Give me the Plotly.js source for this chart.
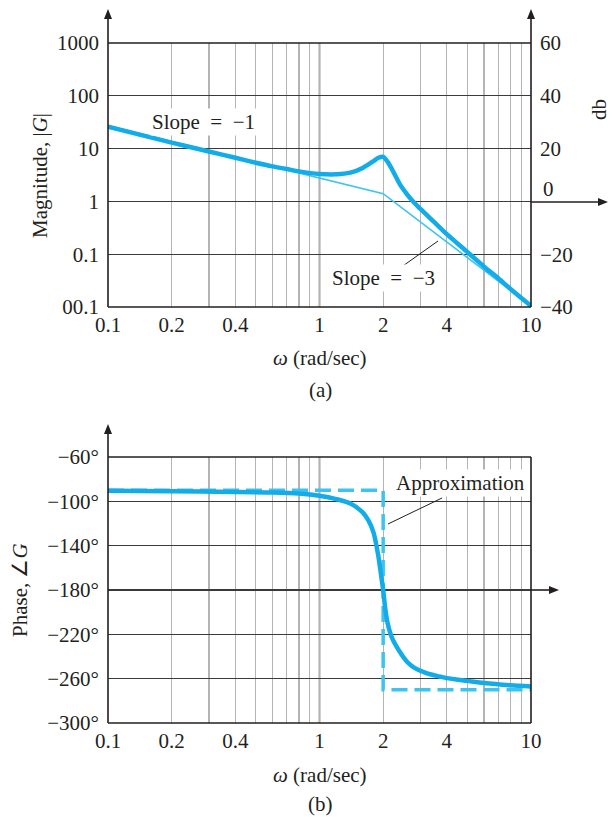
<!DOCTYPE html>
<html>
<head>
<meta charset="utf-8">
<script src="https://cdn.plot.ly/plotly-3.0.1.min.js"></script>
<style>html,body{margin:0;padding:0;background:#fff;}#chart{width:615px;height:817px;}</style>
</head>
<body>
<div id="chart"></div>
<script>
// ---- Data ----
// (a) magnitude
var magOmega = [0.1, 0.2, 0.3, 0.4, 0.5, 0.6, 0.7, 0.8, 1.0, 1.2, 1.4, 1.6, 1.8, 1.9, 2.0, 2.1, 2.2, 2.4, 2.6, 2.8, 3.0, 3.5, 4.0, 5.0, 6.0, 7.0, 8.0, 10.0];
var magValues = [26, 13, 8.8, 6.7, 5.4, 4.6, 4.1, 3.7, 3.3, 3.25, 3.5, 4.3, 5.8, 6.7, 7.0, 5.6, 4.1, 2.1, 1.35, 0.95, 0.72, 0.40, 0.24, 0.11, 0.058, 0.035, 0.022, 0.0105];
var asymOmega = [0.1, 2, 10];
var asymValues = [27, 1.4, 0.0105];
// (b) phase
var phaseOmega = [0.1, 0.2, 0.4, 0.6, 0.8, 1.0, 1.2, 1.4, 1.6, 1.7, 1.8, 1.9, 1.95, 2.0, 2.05, 2.1, 2.2, 2.4, 2.6, 2.8, 3.2, 3.7, 4.0, 5.0, 6.0, 8.0, 10.0];
var phaseValues = [-90.5, -91, -91.5, -92, -93, -95, -98, -102, -110, -117, -128, -150, -165, -180, -198, -210, -223, -236, -245, -250, -255, -258, -259.5, -262, -264, -266, -267];
var approxOmega = [0.1, 2, 2, 10];
var approxValues = [-90, -90, -270, -270];
// ticks
var xGridVals = [0.1,0.2,0.3,0.4,0.5,0.6,0.7,0.8,0.9,1,2,3,4,5,6,7,8,9,10];
var xGridText = ['0.1','0.2','','0.4','','','','','','1','2','','4','','','','','','10'];
var magTickVals = [0.01, 0.1, 1, 10, 100, 1000];
var magTickText = ['00.1', '0.1', '1', '10', '100', '1000'];
var dbTickVals = [60, 40, 20, -20, -40];
var dbTickText = ['60', '40', '20', '\u221220', '\u221240'];
var phaseTickVals = [-60, -100, -140, -180, -220, -260, -300];
var phaseTickText = ['\u221260\u00b0', '\u2212100\u00b0', '\u2212140\u00b0', '\u2212180\u00b0', '\u2212220\u00b0', '\u2212260\u00b0', '\u2212300\u00b0'];

// ---- Layout helpers (pixel -> paper) ----
var W = 615, H = 817;
function X(p){ return p / W; }
function Y(p){ return 1 - p / H; }
var FONT = 'Liberation Serif, Times New Roman, serif';
var FS = 21;
var TXT = '#231f20';
var BLUE = '#12ade9';
var BLUE_LIGHT = '#3cc4f0';
var L = 108, R = 531, T1 = 43, B1 = 307, T2 = 457, B2 = 723;
var ZERO_DB = 202, PHASE_180 = 590;

function line(x0, y0, x1, y1, color, width, layer){
  return {type:'line', xref:'paper', yref:'paper', x0:X(x0), y0:Y(y0), x1:X(x1), y1:Y(y1),
          line:{color:color, width:width}, layer:layer || 'above'};
}
function arrowUp(x, tip){
  return {type:'path', xref:'paper', yref:'paper', fillcolor:'#231f20', line:{width:0},
    path:'M'+X(x)+','+Y(tip)+' L'+X(x-4)+','+Y(tip+10)+' L'+X(x+4)+','+Y(tip+10)+' Z', layer:'above'};
}
function arrowRight(tip, y){
  return {type:'path', xref:'paper', yref:'paper', fillcolor:'#231f20', line:{width:0},
    path:'M'+X(tip)+','+Y(y)+' L'+X(tip-10)+','+Y(y-4)+' L'+X(tip-10)+','+Y(y+4)+' Z', layer:'above'};
}

var axisCommonX = {
  type:'log', range:[-1, 1], tickvals:xGridVals, ticktext:xGridText,
  showgrid:true, gridcolor:'#b4b4b4', gridwidth:1.3, zeroline:false, showline:false,
  ticks:'', tickfont:{family:FONT, size:FS, color:TXT}, ticklabelstandoff:3, fixedrange:true
};

var traces = [
  {x:asymOmega, y:asymValues, xaxis:'x', yaxis:'y', mode:'lines', line:{color:BLUE_LIGHT, width:1.6}, hoverinfo:'skip', showlegend:false},
  {x:magOmega, y:magValues, xaxis:'x', yaxis:'y', mode:'lines', line:{color:BLUE, width:4.5, shape:'spline', smoothing:0.8}, showlegend:false},
  {x:[1], y:[null], xaxis:'x', yaxis:'y3', mode:'lines', showlegend:false, hoverinfo:'skip'},
  {x:approxOmega, y:approxValues, xaxis:'x2', yaxis:'y2', mode:'lines', line:{color:BLUE_LIGHT, width:3.5, dash:'16px,7px'}, hoverinfo:'skip', showlegend:false},
  {x:phaseOmega, y:phaseValues, xaxis:'x2', yaxis:'y2', mode:'lines', line:{color:BLUE, width:4.5, shape:'spline', smoothing:0.8}, showlegend:false}
];

var layout = {
  width:W, height:H, autosize:false,
  margin:{l:0, r:0, t:0, b:0},
  paper_bgcolor:'#fff', plot_bgcolor:'#fff',
  font:{family:FONT, size:FS, color:TXT},
  showlegend:false,
  xaxis: Object.assign({}, axisCommonX, {domain:[X(L), X(R)], anchor:'y'}),
  yaxis: {type:'log', range:[-2, 3], domain:[Y(B1), Y(T1)], anchor:'x',
    tickvals:magTickVals, ticktext:magTickText, showgrid:true, gridcolor:'#3a3a3a', gridwidth:1.2,
    zeroline:false, showline:false, ticks:'', tickfont:{family:FONT, size:FS, color:TXT}, ticklabelstandoff:8, fixedrange:true},
  yaxis3: {overlaying:'y', side:'right', anchor:'x', range:[-40, 60],
    tickvals:dbTickVals, ticktext:dbTickText, showgrid:false, zeroline:false, showline:false, ticks:'',
    tickfont:{family:FONT, size:FS, color:TXT}, ticklabelstandoff:8, fixedrange:true},
  xaxis2: Object.assign({}, axisCommonX, {domain:[X(L), X(R)], anchor:'y2'}),
  yaxis2: {range:[-300, -60], domain:[Y(B2), Y(T2)], anchor:'x2',
    tickvals:phaseTickVals, ticktext:phaseTickText, showgrid:true, gridcolor:'#3a3a3a', gridwidth:1.2,
    zeroline:false, showline:false, ticks:'', tickfont:{family:FONT, size:FS, color:TXT}, ticklabelstandoff:8, fixedrange:true},
  shapes: [
    // darker decade line at omega = 1
    line((L+R)/2, T1, (L+R)/2, B1, '#4a4a4a', 1.5, 'between'),
    line((L+R)/2, T2, (L+R)/2, B2, '#4a4a4a', 1.5, 'between'),
    // (a) frame & axes
    line(L, B1, L, 16, '#231f20', 1.6),
    line(R, B1, R, 16, '#231f20', 1.6),
    line(L, B1, R, B1, '#231f20', 1.6),
    line(L, T1, R, T1, '#231f20', 1.3),
    line(R, ZERO_DB, 600, ZERO_DB, '#231f20', 1.6),
    arrowUp(L, 9), arrowUp(R, 9), arrowRight(608, ZERO_DB),
    // (b) frame & axes
    line(L, B2, L, 432, '#231f20', 1.6),
    line(R, B2, R, T2, '#231f20', 1.6),
    line(L, B2, R, B2, '#231f20', 1.6),
    line(L, T2, R, T2, '#231f20', 1.3),
    line(R, PHASE_180, 550, PHASE_180, '#231f20', 1.6),
    arrowUp(L, 424), arrowRight(559, PHASE_180),
    // leader lines
    line(400, 268, 438, 241, '#231f20', 1),
    line(442, 498, 388, 524, '#231f20', 1)
  ],
  annotations: [
    {xref:'paper', yref:'paper', x:X(203), y:Y(122), text:'Slope\u2002=\u2002\u22121', showarrow:false, xanchor:'center', yanchor:'middle', bgcolor:'#fff', font:{size:FS}},
    {xref:'paper', yref:'paper', x:X(383), y:Y(278), text:'Slope\u2002=\u2002\u22123', showarrow:false, xanchor:'center', yanchor:'middle', bgcolor:'#fff', font:{size:FS}},
    {xref:'paper', yref:'paper', x:X(541), y:Y(189), text:'0', showarrow:false, xanchor:'left', yanchor:'middle', font:{size:FS}},
    {xref:'paper', yref:'paper', x:X(599), y:Y(110), text:'db', showarrow:false, textangle:-90, xanchor:'center', yanchor:'middle', borderpad:0, font:{size:FS}},
    {xref:'paper', yref:'paper', x:X(40), y:Y(176), text:'Magnitude, |<i>G</i>|', showarrow:false, textangle:-90, xanchor:'center', yanchor:'middle', font:{size:FS}},
    {xref:'paper', yref:'paper', x:X(320), y:Y(358), text:'<i>\u03c9</i> (rad/sec)', showarrow:false, xanchor:'center', yanchor:'middle', font:{size:FS}},
    {xref:'paper', yref:'paper', x:X(320), y:Y(390), text:'(a)', showarrow:false, xanchor:'center', yanchor:'middle', font:{size:FS}},
    {xref:'paper', yref:'paper', x:X(460), y:Y(483), text:'Approximation', showarrow:false, xanchor:'center', yanchor:'middle', bgcolor:'#fff', font:{size:FS}},
    {xref:'paper', yref:'paper', x:X(20), y:Y(590), text:'Phase, \u2220<i>G</i>', showarrow:false, textangle:-90, xanchor:'center', yanchor:'middle', font:{size:FS}},
    {xref:'paper', yref:'paper', x:X(320), y:Y(775), text:'<i>\u03c9</i> (rad/sec)', showarrow:false, xanchor:'center', yanchor:'middle', font:{size:FS}},
    {xref:'paper', yref:'paper', x:X(320), y:Y(804), text:'(b)', showarrow:false, xanchor:'center', yanchor:'middle', font:{size:FS}}
  ]
};

Plotly.newPlot('chart', traces, layout, {staticPlot:true, displayModeBar:false});
</script>
</body>
</html>
